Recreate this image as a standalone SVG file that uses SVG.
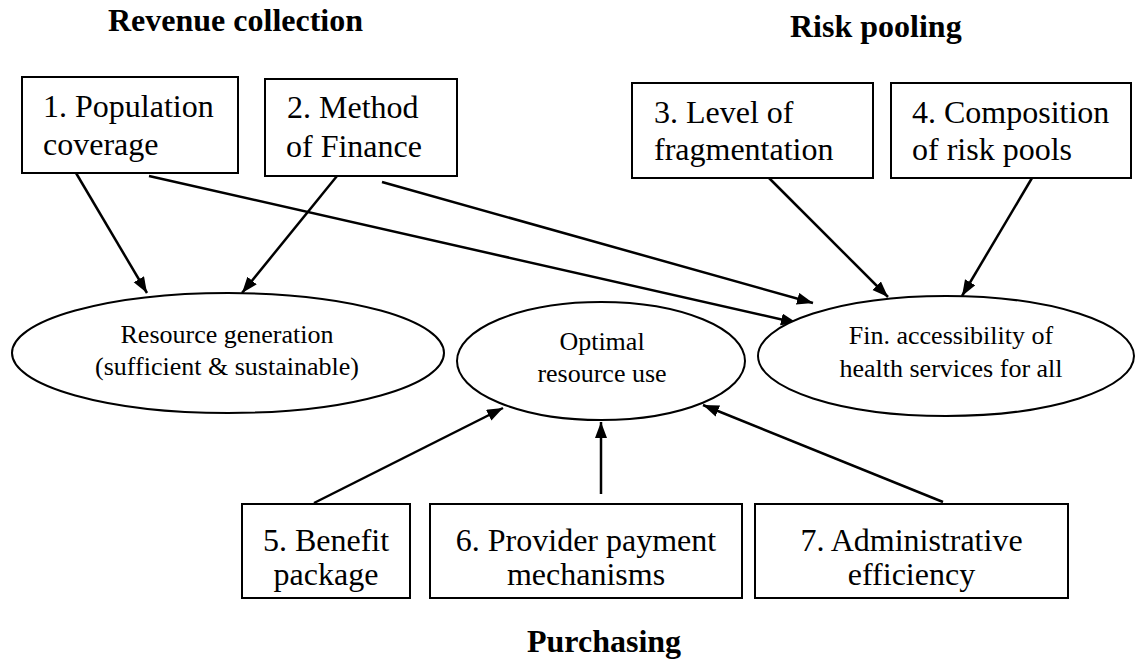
<svg xmlns="http://www.w3.org/2000/svg" width="1135" height="659" viewBox="0 0 1135 659">
<defs>
<style>
.box{fill:#fff;stroke:#000;stroke-width:2}
.ell{fill:#fff;stroke:#000;stroke-width:2}
.t{font-family:"Liberation Serif","Times New Roman",serif;font-size:32px;fill:#000}
.te{font-family:"Liberation Serif","Times New Roman",serif;font-size:26px;fill:#000;text-anchor:middle}
.title{font-family:"Liberation Serif","Times New Roman",serif;font-size:32px;font-weight:bold;fill:#000}
.mid{text-anchor:middle}
.c{stroke:#000;stroke-width:2.5;fill:none;marker-end:url(#ah)}
</style>
<marker id="ah" markerUnits="userSpaceOnUse" markerWidth="17" markerHeight="13" refX="16" refY="6" orient="auto">
<path d="M0,0 L16,6 L0,12 z" fill="#000"/>
</marker>
</defs>
<rect width="1135" height="659" fill="#fff"/>
<g id="titles">
<text class="title" x="108" y="31">Revenue collection</text>
<text class="title" x="790" y="37">Risk pooling</text>
<text class="title" x="527" y="652">Purchasing</text>
</g>
<g id="connectors">
<line class="c" x1="76" y1="173" x2="147" y2="293"/>
<line class="c" x1="337" y1="176" x2="242" y2="293"/>
<line class="c" x1="149" y1="176" x2="797" y2="323"/>
<line class="c" x1="382" y1="182" x2="813" y2="303"/>
<line class="c" x1="769" y1="178" x2="888" y2="297"/>
<line class="c" x1="1032" y1="178" x2="962" y2="296"/>
<line class="c" x1="314" y1="503" x2="503" y2="408"/>
<line class="c" x1="601" y1="494" x2="601" y2="422"/>
<line class="c" x1="943" y1="502" x2="703" y2="405"/>
</g>
<g id="n1">
<rect class="box" x="22" y="77" width="216" height="96"/>
<text class="t" x="43" y="117">1. Population</text>
<text class="t" x="43" y="155">coverage</text>
</g>
<g id="n2">
<rect class="box" x="265" y="79" width="192" height="97"/>
<text class="t" x="287" y="118">2. Method</text>
<text class="t" x="286" y="157">of Finance</text>
</g>
<g id="n3">
<rect class="box" x="632" y="83" width="241" height="95"/>
<text class="t" x="654" y="123">3. Level of</text>
<text class="t" x="654" y="160">fragmentation</text>
</g>
<g id="n4">
<rect class="box" x="891" y="83" width="240" height="95"/>
<text class="t" x="912" y="123">4. Composition</text>
<text class="t" x="912" y="160">of risk pools</text>
</g>
<g id="e1">
<ellipse class="ell" cx="228" cy="353" rx="216" ry="60"/>
<text class="te" x="227" y="343">Resource generation</text>
<text class="te" x="227" y="375">(sufficient &amp; sustainable)</text>
</g>
<g id="e2">
<ellipse class="ell" cx="601" cy="361" rx="144" ry="59"/>
<text class="te" x="602" y="350">Optimal</text>
<text class="te" x="602" y="382">resource use</text>
</g>
<g id="e3">
<ellipse class="ell" cx="946" cy="356" rx="188" ry="60"/>
<text class="te" x="951" y="344">Fin. accessibility of</text>
<text class="te" x="951" y="377">health services for all</text>
</g>
<g id="n5">
<rect class="box" x="242" y="504" width="168" height="94"/>
<text class="t mid" x="326" y="551">5. Benefit</text>
<text class="t mid" x="326" y="585">package</text>
</g>
<g id="n6">
<rect class="box" x="430" y="504" width="312" height="94"/>
<text class="t mid" x="586" y="551">6. Provider payment</text>
<text class="t mid" x="586" y="585">mechanisms</text>
</g>
<g id="n7">
<rect class="box" x="755" y="504" width="313" height="94"/>
<text class="t mid" x="911.5" y="551">7. Administrative</text>
<text class="t mid" x="911.5" y="585">efficiency</text>
</g>
</svg>
